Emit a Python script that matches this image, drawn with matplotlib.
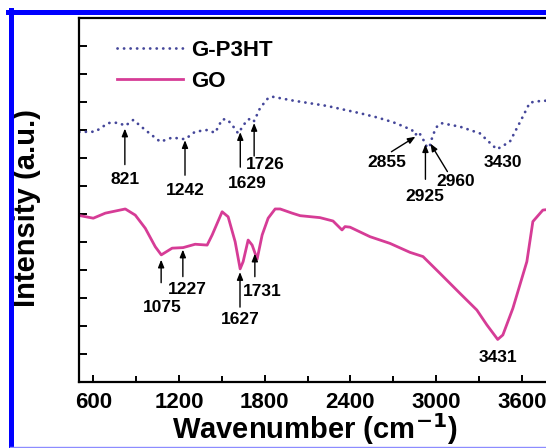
import numpy as np
import matplotlib
matplotlib.use("Agg")
import matplotlib.pyplot as plt
from matplotlib.lines import Line2D

plt.rcParams['font.family'] = ['Liberation Sans', 'DejaVu Sans']
plt.rcParams['font.weight'] = 'bold'
plt.rcParams['mathtext.default'] = 'bf'

# FTIR spectra (wavenumber, intensity in arbitrary units)
gp3ht_x = [502, 614, 705, 775, 824, 880, 964, 1069, 1152, 1243, 1313, 1397, 1453,
           1502, 1537, 1572, 1614, 1677, 1712, 1726, 1768, 1824, 1852, 1999, 2236,
           2467, 2586, 2698, 2747, 2831, 2852, 2880, 2901, 2922, 2936, 2957, 2971,
           2992, 3013, 3041, 3166, 3306, 3425, 3516, 3607, 3656, 3747, 3850, 4000]
gp3ht_y = [8.93, 8.94, 9.25, 9.26, 9.15, 9.36, 9.00, 8.58, 8.73, 8.67, 8.94, 9.00, 8.90,
           9.38, 9.38, 9.18, 8.88, 9.36, 9.42, 9.32, 9.79, 10.14, 10.19, 10.05, 9.86,
           9.60, 9.45, 9.28, 9.18, 9.00, 8.82, 8.93, 8.71, 8.57, 8.36, 8.46, 8.71,
           9.00, 9.18, 9.24, 9.12, 8.88, 8.31, 8.58, 9.48, 9.98, 10.05, 10.02, 10.0]

go_x = [509, 600, 684, 824, 894, 964, 1034, 1076, 1152, 1229, 1313, 1397, 1432, 1502,
        1544, 1593, 1628, 1649, 1684, 1712, 1747, 1782, 1824, 1873, 1908, 1992, 2048,
        2187, 2278, 2341, 2362, 2397, 2537, 2677, 2817, 2908, 3027, 3166, 3285, 3355,
        3431, 3467, 3537, 3635, 3677, 3747, 3850, 4000]
go_y = [5.94, 5.85, 6.03, 6.18, 5.96, 5.49, 4.83, 4.54, 4.78, 4.80, 4.92, 4.89, 5.25, 6.08,
        5.90, 5.01, 4.04, 4.30, 5.07, 4.89, 4.39, 5.25, 5.85, 6.18, 6.18, 6.03, 5.94,
        5.87, 5.75, 5.43, 5.55, 5.53, 5.19, 4.95, 4.63, 4.48, 3.88, 3.17, 2.57, 2.04,
        1.52, 1.68, 2.63, 4.30, 5.73, 6.14, 6.2, 6.2]

gp3ht_peaks = [821, 1242, 1629, 1726, 2855, 2925, 2960, 3430]
go_peaks = [1075, 1227, 1627, 1731, 3431]

# annotation layout in pixels: gap below curve, arrow tail offset, text offset (from head)
gp3ht_layout = [(3, (0, -36), (0, -51)),
                (1, (0, -35), (0, -50)),
                (2, (0, -35), (7, -51)),
                (2, (0, -33), (11, -41)),
                (2, (-24, -15), (-29, -26)),
                (1, (0, -35), (-1, -52)),
                (0, (17, -28), (25, -38)),
                (None, None, (5, -14))]
go_layout = [(5, (0, -23), (1, -48)),
             (2, (0, -27), (4, -40)),
             (4, (0, -35), (0, -47)),
             (1, (0, -23), (7, -38)),
             (None, None, (0, -18))]

fig = plt.figure(figsize=(5.46, 4.48), dpi=100)
ax = fig.add_axes([79 / 546, 1 - 382 / 448, 500 / 546, 364 / 448])

ax.plot(gp3ht_x, gp3ht_y, color='#45479a', lw=2.0, linestyle=(0, (0.05, 2.3)),
        dash_capstyle='round', label='G-P3HT')
ax.plot(go_x, go_y, color='#d63c96', lw=2.0, label='GO')

ax.set_xlim(500, 4000)
ax.set_ylim(0, 13)
ax.set_xticks(np.arange(600, 4000, 600))
ax.set_xticks(np.arange(900, 4000, 600), minor=True)
ax.set_yticks(np.arange(1, 13))
ax.set_yticklabels([])
ax.tick_params(axis='both', which='both', direction='in', width=1.4, top=False, right=False)
ax.tick_params(axis='x', which='major', length=5, labelsize=16, pad=7)
ax.tick_params(axis='x', which='minor', length=4)
ax.tick_params(axis='y', which='major', length=6)
for lab in ax.get_xticklabels():
    lab.set_fontweight('bold')
for sp in ax.spines.values():
    sp.set_linewidth(1.6)

ax.set_xlabel('Wavenumber (cm$^{-1}$)', fontsize=21, fontweight='bold')
ax.xaxis.set_label_coords(236 / 500, -29 / 364)
ax.set_ylabel('Intensity (a.u.)', fontsize=21, fontweight='bold')
ax.yaxis.set_label_coords(-38 / 500, 0.478)

arrow = dict(arrowstyle='-|>,head_length=0.45,head_width=0.18', color='black',
             lw=1.0, shrinkA=0, shrinkB=0)


def label_peaks(xs, ys, peaks, layout):
    for pk, (gap, tail, txt) in zip(peaks, layout):
        yc = np.interp(pk, xs, ys)
        head = ax.transData.transform((pk, yc))
        if gap is not None:
            head = head - np.array([0, gap])
            xy = ax.transData.inverted().transform(head)
            ax.annotate('', xy=xy, xytext=tail, textcoords='offset pixels',
                        arrowprops=arrow)
        else:
            xy = ax.transData.inverted().transform(head)
        ax.annotate(str(pk), xy=xy, xytext=txt, textcoords='offset pixels',
                    ha='center', va='center', fontsize=12.5, fontweight='bold')


label_peaks(gp3ht_x, gp3ht_y, gp3ht_peaks, gp3ht_layout)
label_peaks(go_x, go_y, go_peaks, go_layout)

leg = ax.legend(loc='upper left', bbox_to_anchor=(117 / 546, 1 - 40 / 448),
                bbox_transform=fig.transFigure, frameon=False, borderpad=0,
                borderaxespad=0, handlelength=2.95, handletextpad=0.4,
                labelspacing=0.45, prop={'size': 16, 'weight': 'bold'})

# blue frame around the figure panel
fig.add_artist(Line2D([8 / 546, 1.0], [1 - 12.5 / 448] * 2, color='#0000ff', lw=3.6,
                      transform=fig.transFigure))
fig.add_artist(Line2D([10.5 / 546] * 2, [0, 1 - 10 / 448], color='#0000ff', lw=3.6,
                      transform=fig.transFigure))
fig.add_artist(Line2D([10 / 546, 1.0], [1.5 / 448] * 2, color='#8c8cff', lw=1.0,
                      transform=fig.transFigure))

fig.savefig('out.png', dpi=100)
